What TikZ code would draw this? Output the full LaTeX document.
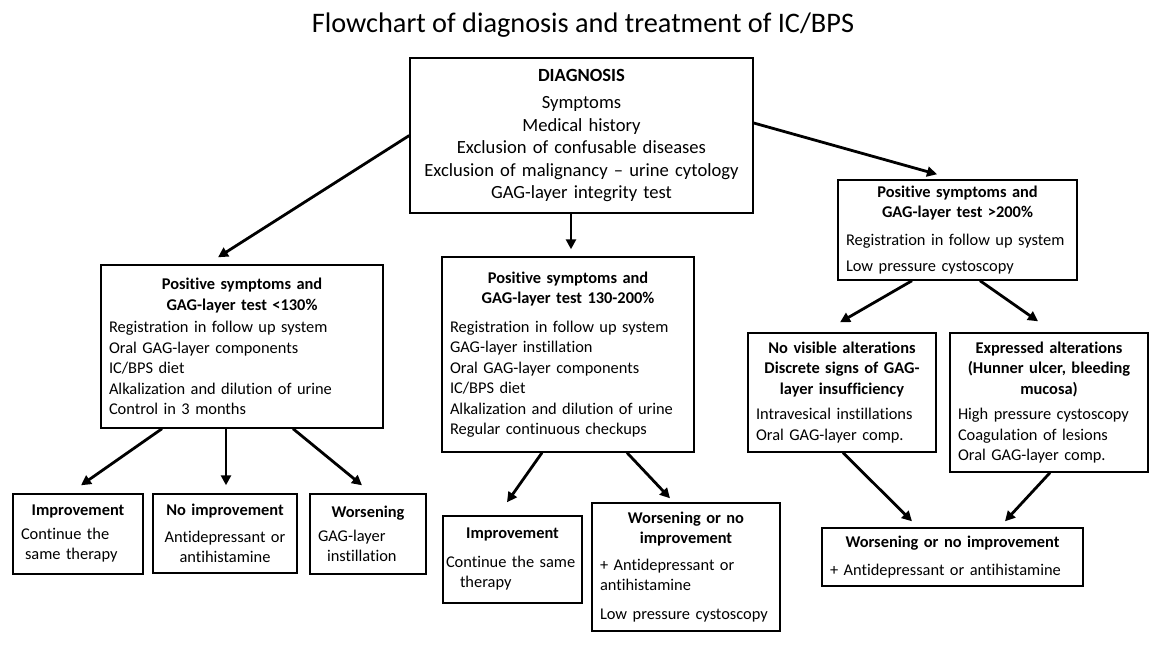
\documentclass[tikz,border=0pt]{standalone}
\usepackage{fontspec}
\setmainfont{Carlito}[Ligatures=CommonOff]
\usetikzlibrary{arrows.meta}
\newcommand{\hd}[2][6pt]{{\centering\bfseries #2\par}\vspace{#1}}
\tikzset{
	box/.style={draw=black, line width=1.4pt, inner xsep=8pt, inner ysep=2pt, align=left, font=\fontsize{16.4}{20.5}\selectfont},
	arr/.style={-{Triangle[length=10pt,width=10pt]}, line width=2.8pt, black},
}

\begin{document}
\begin{tikzpicture}[x=1pt, y=-1pt]
						\useasboundingbox (0,0) rectangle (1163,655);
						\node[font=\fontsize{28.3}{32}\selectfont] (title) at (583,25) {Flowchart of diagnosis and treatment of IC/BPS};
						% diagnosis
						\node[box, text width=327pt, minimum height=155pt, align=center, font=\fontsize{18.6}{22.5}\selectfont] (diag) at (581.5,135.5)
							{\textbf{DIAGNOSIS}\\[5pt]Symptoms\\Medical history\\Exclusion of confusable diseases\\Exclusion of malignancy – urine cytology\\GAG-layer integrity test};
						% three test results
						\node[box, text width=266pt, minimum height=163pt] (lowgag) at (242,346.5)
							{\hd[2pt]{Positive symptoms and\\GAG-layer test <130\%}Registration in follow up system\\Oral GAG-layer components\\IC/BPS diet\\Alkalization and dilution of urine\\Control in 3 months};
						\node[box, text width=236pt, minimum height=195pt] (midgag) at (568,354.5)
							{\hd[8pt]{Positive symptoms and\\GAG-layer test 130-200\%}Registration in follow up system\\GAG-layer instillation\\Oral GAG-layer components\\IC/BPS diet\\Alkalization and dilution of urine\\Regular continuous checkups};
						\node[box, text width=223pt, minimum height=100pt] (highgag) at (957.5,230)
							{\hd[7pt]{Positive symptoms and\\GAG-layer test >200\%}Registration in follow up system\\[6pt]Low pressure cystoscopy};
						% cystoscopy findings
						\node[box, text width=172pt, minimum height=119pt] (novis) at (842,392.5)
							{\hd[5pt]{No visible alterations\\Discrete signs of GAG-\\layer insufficiency}Intravesical instillations\\Oral GAG-layer comp.};
						\node[box, text width=182pt, minimum height=139pt] (expr) at (1049,402.5)
							{\hd[5pt]{Expressed alterations\\(Hunner ulcer, bleeding\\mucosa)}High pressure cystoscopy\\Coagulation of lesions\\Oral GAG-layer comp.};
						% outcomes
						\node[box, text width=114pt, minimum height=80pt] (impA) at (78,534)
							{\hd[3pt]{Improvement}Continue the\\\hspace*{4pt}same therapy};
						\node[box, text width=128pt, minimum height=79pt, align=center] (noimpA) at (225,533.5)
							{\hd[6pt]{No improvement}Antidepressant or\\antihistamine};
						\node[box, text width=100pt, minimum height=80pt] (worseA) at (368,534)
							{\hd[3pt]{Worsening}GAG-layer\\\hspace*{9pt}instillation};
						\node[box, inner xsep=3pt, text width=133pt, minimum height=87pt] (impB) at (512.5,559.5)
							{\hd[8pt]{Improvement}Continue the same\\\hspace*{14pt}therapy};
						\node[box, text width=172pt, minimum height=128pt] (worseB) at (686,567)
							{\hd[6pt]{Worsening or no\\improvement}+ Antidepressant or\\antihistamine\\[8pt]Low pressure cystoscopy};
						\node[box, text width=245pt, minimum height=58pt] (worseC) at (952.5,557)
							{\hd[7pt]{Worsening or no improvement}+ Antidepressant or antihistamine};
						% arrows
						\draw [arr](diag.west) to([xshift=-24pt,yshift=7pt]lowgag.north);
						\draw [arr]([xshift=-10.5pt]diag.south) to([xshift=3pt,yshift=7pt]midgag.north);
						\draw [arr]([yshift=12.5pt]diag.east) to([xshift=-20.5pt,yshift=5pt]highgag.north);
						\draw [arr]([xshift=-80pt]lowgag.south) to([xshift=3pt,yshift=8pt]impA.north);
						\draw [arr]([xshift=-16pt]lowgag.south) to([xshift=1pt,yshift=8pt]noimpA.north);
						\draw [arr]([xshift=51pt]lowgag.south) to([xshift=-6pt,yshift=8pt]worseA.north);
						\draw [arr]([xshift=-26pt]midgag.south) to([xshift=-5.5pt,yshift=13pt]impB.north);
						\draw [arr]([xshift=59pt]midgag.south) to([xshift=-16pt,yshift=4pt]worseB.north);
						\draw [arr]([xshift=-45.5pt]highgag.south) to([xshift=-2pt,yshift=10pt]novis.north);
						\draw [arr]([xshift=22.5pt]highgag.south) to([xshift=-11pt,yshift=11pt]expr.north);
						\draw [arr]([xshift=1pt]novis.south) to([xshift=-40.5pt,yshift=6pt]worseC.north);
						\draw [arr]([xshift=1pt]expr.south) to([xshift=52.5pt,yshift=6pt]worseC.north);
					\end{tikzpicture}
\end{document}
